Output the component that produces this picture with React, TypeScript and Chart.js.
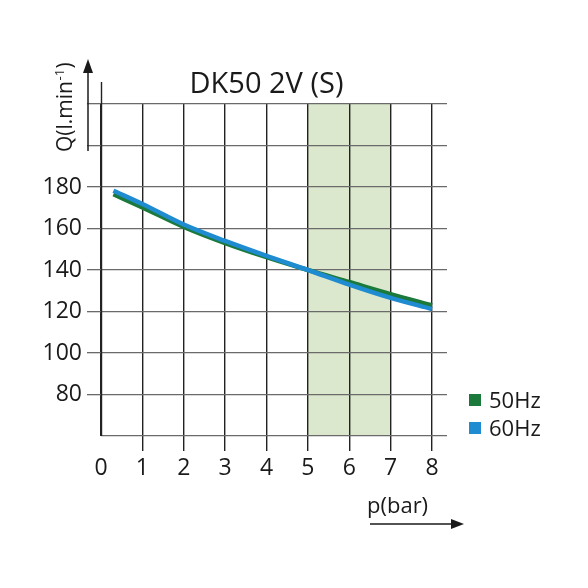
import React, { useEffect, useRef } from "react";
import { Chart, registerables } from "chart.js";

Chart.register(...registerables);

const pressure = [0.3, 1, 2, 3, 4, 5, 6, 7, 8];
const flow50 = [176.5, 170.2, 160.8, 153, 146.2, 140, 134.2, 128.4, 123];
const flow60 = [178.2, 171.8, 161.9, 154, 146.8, 140, 133, 126.6, 121.2];
const xTicks = [0, 1, 2, 3, 4, 5, 6, 7, 8];
const yLabelled = [80, 100, 120, 140, 160, 180];
const seriesNames = ["50Hz", "60Hz"];
const bandRange = [5, 7];

const GREEN = "#1b7a3b";
const BLUE = "#1f8bd0";
const FONT = '"Open Sans", "Noto Sans", sans-serif';
const TEXT = "#1a1a1a";

const decor = {
  id: "decor",
  beforeDraw(chart: any) {
    const { ctx, chartArea, scales } = chart;
    const x = scales.x;
    const x0 = x.getPixelForValue(bandRange[0]);
    const x1 = x.getPixelForValue(bandRange[1]);
    ctx.save();
    ctx.fillStyle = "#dbe8cd";
    ctx.fillRect(x0, chartArea.top, x1 - x0, chartArea.bottom - chartArea.top);
    ctx.restore();
  },
  afterDraw(chart: any) {
    const { ctx, chartArea, scales } = chart;
    const ax = Math.round(scales.x.getPixelForValue(0)) + 0.5;
    ctx.save();
    // y axis line extension
    ctx.strokeStyle = "#222";
    ctx.lineWidth = 1.4;
    ctx.beginPath();
    ctx.moveTo(ax, 82);
    ctx.lineTo(ax, chartArea.bottom);
    ctx.stroke();

    // title
    ctx.fillStyle = TEXT;
    ctx.font = "500 29px " + FONT;
    ctx.textAlign = "center";
    ctx.textBaseline = "alphabetic";
    const cx = (scales.x.getPixelForValue(0) + scales.x.getPixelForValue(8)) / 2;
    ctx.fillText("DK50 2V (S)", cx, 93);

    // up arrow
    ctx.strokeStyle = TEXT;
    ctx.lineWidth = 1.5;
    ctx.beginPath();
    ctx.moveTo(88, 151);
    ctx.lineTo(88, 70);
    ctx.stroke();
    ctx.beginPath();
    ctx.moveTo(88, 59);
    ctx.lineTo(83, 73);
    ctx.lineTo(93, 73);
    ctx.closePath();
    ctx.fill();

    // right arrow
    ctx.beginPath();
    ctx.moveTo(370, 524);
    ctx.lineTo(455, 524);
    ctx.stroke();
    ctx.beginPath();
    ctx.moveTo(464, 524);
    ctx.lineTo(451, 519);
    ctx.lineTo(451, 529);
    ctx.closePath();
    ctx.fill();

    // x axis title
    ctx.textAlign = "left";
    ctx.font = "22px " + FONT;
    ctx.fillText("p(bar)", 367, 513);

    // y axis title (rotated)
    ctx.save();
    ctx.translate(72, 152);
    ctx.rotate(-Math.PI / 2);
    ctx.font = "21px " + FONT;
    let px = 0;
    const main = "Q(l.min";
    ctx.fillText(main, px, 0);
    px += ctx.measureText(main).width;
    ctx.font = "13px " + FONT;
    ctx.fillText("-1", px + 0.5, -8);
    px += ctx.measureText("-1").width + 1;
    ctx.font = "21px " + FONT;
    ctx.fillText(")", px, 0);
    ctx.restore();

    // legend
    const colors = [GREEN, BLUE];
    const rows = [394, 422];
    ctx.font = "22px " + FONT;
    seriesNames.forEach((name, i) => {
      ctx.fillStyle = colors[i];
      ctx.fillRect(469, rows[i], 12, 12);
      ctx.fillStyle = TEXT;
      ctx.fillText(name, 489, rows[i] + 14);
    });
    ctx.restore();
  },
};

export default function App() {
  const ref = useRef<HTMLCanvasElement | null>(null);
  useEffect(() => {
    if (!ref.current) return;
    const pxPerUnit = (432 - 101) / 8;
    const xMax = (447 - 101) / pxPerUnit;
    const chart = new Chart(ref.current, {
      type: "line",
      data: {
        datasets: [
          {
            label: seriesNames[1],
            data: pressure.map((p, i) => ({ x: p, y: flow60[i] })),
            borderColor: BLUE,
            borderWidth: 4.5,
            pointRadius: 0,
            cubicInterpolationMode: "monotone",
            fill: false,
          },
          {
            label: seriesNames[0],
            data: pressure.map((p, i) => ({ x: p, y: flow50[i] })),
            borderColor: GREEN,
            borderWidth: 4.5,
            pointRadius: 0,
            cubicInterpolationMode: "monotone",
            fill: false,
          },
        ],
      },
      options: {
        responsive: false,
        animation: false,
        devicePixelRatio: 1,
        layout: { padding: { top: 104, right: 141, left: 0, bottom: 0 } },
        plugins: { legend: { display: false }, title: { display: false }, tooltip: { enabled: false } },
        scales: {
          x: {
            type: "linear",
            min: 0,
            max: xMax,
            afterBuildTicks: (s: any) => {
              s.ticks = xTicks.map((v) => ({ value: v }));
            },
            afterFit: (s: any) => {
              s.height = 152;
            },
            ticks: {
              color: TEXT,
              font: { family: FONT, size: 23 },
              padding: 4,
              maxRotation: 0,
              autoSkip: false,
              callback: (v: any) => String(v),
            },
            grid: {
              color: "#222",
              lineWidth: 1.4,
              tickLength: 15,
              tickColor: (c: any) => (c.tick && c.tick.value === 0 ? "rgba(0,0,0,0)" : "#222"),
            },
            border: { display: false },
          },
          y: {
            type: "linear",
            min: 60,
            max: 220,
            afterFit: (s: any) => {
              s.width = 101;
            },
            ticks: {
              stepSize: 20,
              color: TEXT,
              font: { family: FONT, size: 23 },
              padding: 5,
              callback: (v: any) => (yLabelled.includes(Number(v)) ? String(v) : ""),
            },
            grid: {
              color: "#6a6a6a",
              lineWidth: 1.3,
              tickLength: 14,
              tickColor: (c: any) => (c.tick && c.tick.value === 60 ? "rgba(0,0,0,0)" : "#6a6a6a"),
            },
            border: { display: false },
          },
        },
      },
      plugins: [decor],
    } as any);
    return () => chart.destroy();
  }, []);
  return (
    <div style={{ position: "absolute", left: 0, top: 0, width: 588, height: 588, background: "#fff" }}>
      <canvas ref={ref} width={588} height={588} style={{ width: 588, height: 588 }} />
    </div>
  );
}
